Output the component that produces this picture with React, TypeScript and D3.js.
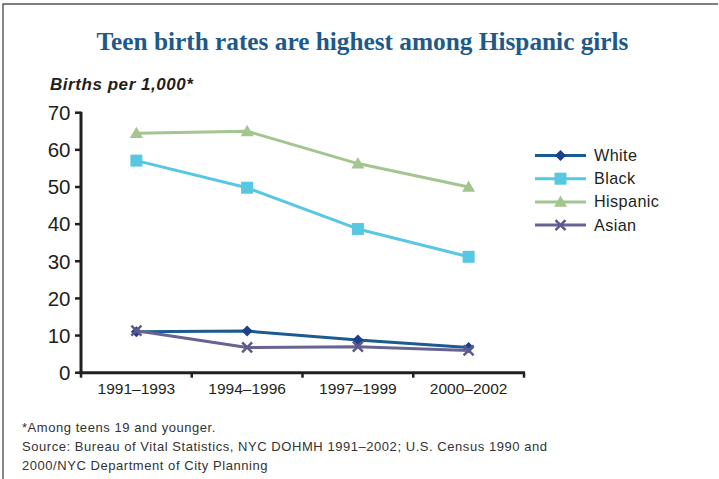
import React from "react";
import * as d3 from "d3";

const categories = ["1991–1993", "1994–1996", "1997–1999", "2000–2002"];
const seriesNames = ["White", "Black", "Hispanic", "Asian"];
const whiteValues = [11.0, 11.2, 8.8, 6.8];
const blackValues = [57.1, 49.8, 38.7, 31.2];
const hispanicValues = [64.5, 65.0, 56.3, 50.0];
const asianValues = [11.3, 6.8, 7.0, 6.0];
const yTicks = [0, 10, 20, 30, 40, 50, 60, 70];

const colors: Record<string, string> = {
  White: "#1c5b8f",
  Black: "#58c8e2",
  Hispanic: "#a4c58f",
  Asian: "#676493",
};
const markerColors: Record<string, string> = {
  White: "#1f3f8a",
  Black: "#58c8e2",
  Hispanic: "#a4c58f",
  Asian: "#5e5b8a",
};

function Marker({ type, x, y }: { type: string; x: number; y: number }) {
  const c = markerColors[type];
  if (type === "White") {
    const s = 5.5;
    return <path d={`M${x},${y - s}L${x + s},${y}L${x},${y + s}L${x - s},${y}Z`} fill={c} />;
  }
  if (type === "Black") {
    const s = 6;
    return <rect x={x - s} y={y - s} width={2 * s} height={2 * s} fill={c} />;
  }
  if (type === "Hispanic") {
    const s = 6.5;
    return <path d={`M${x},${y - s}L${x + s},${y + s * 0.75}L${x - s},${y + s * 0.75}Z`} fill={c} />;
  }
  const s = 5;
  return (
    <path
      d={`M${x - s},${y - s}L${x + s},${y + s}M${x - s},${y + s}L${x + s},${y - s}`}
      stroke={c}
      strokeWidth={2.5}
      fill="none"
    />
  );
}

export default function App() {
  const W = 719;
  const H = 479;
  const left = 81;
  const right = 524;
  const top = 112.7;
  const bottom = 372.7;

  const x = d3.scaleBand<string>().domain(categories).range([left, right]).padding(0);
  const y = d3.scaleLinear().domain([0, 70]).range([bottom, top]);

  const data: Record<string, number[]> = {
    White: whiteValues,
    Black: blackValues,
    Hispanic: hispanicValues,
    Asian: asianValues,
  };

  const line = d3
    .line<number>()
    .x((_, i) => (x(categories[i]) as number) + x.bandwidth() / 2)
    .y((d) => y(d));

  const drawOrder = ["Hispanic", "Black", "White", "Asian"];
  const sans = "'Liberation Sans', Arial, Helvetica, sans-serif";

  const legendX1 = 535;
  const legendX2 = 586;
  const legendY0 = 155.5;
  const legendStep = 23.2;

  const boundaries = categories.map((c) => x(c) as number).concat([right]);

  return (
    <svg
      width={W}
      height={H}
      style={{ position: "absolute", left: 0, top: 0, background: "#fff" }}
    >
      <rect x={0} y={0} width={W} height={H} fill="#fff" />
      {/* frame */}
      <line x1={2.5} y1={4} x2={718} y2={4} stroke="#555" strokeWidth={1.6} />
      <line x1={3} y1={4} x2={3} y2={H} stroke="#555" strokeWidth={1.4} />

      <text
        x={362.5}
        y={50}
        textAnchor="middle"
        fontFamily="'Liberation Serif', 'Times New Roman', serif"
        fontWeight="bold"
        fontSize={25.3}
        fill="#1d5a8b"
      >
        Teen birth rates are highest among Hispanic girls
      </text>

      <text
        x={50}
        y={89.5}
        fontFamily={sans}
        fontWeight="bold"
        fontStyle="italic"
        fontSize={17}
        letterSpacing={0.55}
        fill="#231f20"
      >
        Births per 1,000*
      </text>

      {/* y ticks */}
      {yTicks.map((t) => (
        <g key={t}>
          <line x1={75} x2={left} y1={y(t)} y2={y(t)} stroke="#231f20" strokeWidth={2.5} />
          <text x={70.5} y={y(t) + 7.3} textAnchor="end" fontFamily={sans} fontSize={20.5} fill="#231f20">
            {t}
          </text>
        </g>
      ))}

      {/* x ticks */}
      {boundaries.map((b, i) => (
        <line key={i} x1={b} x2={b} y1={bottom} y2={bottom + 5} stroke="#231f20" strokeWidth={2.5} />
      ))}
      {categories.map((c) => (
        <text
          key={c}
          x={(x(c) as number) + x.bandwidth() / 2}
          y={394}
          textAnchor="middle"
          fontFamily={sans}
          fontSize={15.5}
          fill="#231f20"
        >
          {c}
        </text>
      ))}

      {/* axes */}
      <line x1={left} x2={left} y1={top - 1} y2={bottom + 1.5} stroke="#231f20" strokeWidth={3} />
      <line x1={left - 1.5} x2={right + 1} y1={bottom} y2={bottom} stroke="#231f20" strokeWidth={3} />

      {/* series */}
      {drawOrder.map((name) => (
        <g key={name}>
          <path d={line(data[name]) || ""} fill="none" stroke={colors[name]} strokeWidth={3} strokeLinejoin="round" />
          {data[name].map((v, i) => (
            <Marker key={i} type={name} x={(x(categories[i]) as number) + x.bandwidth() / 2} y={y(v)} />
          ))}
        </g>
      ))}

      {/* legend */}
      {seriesNames.map((name, i) => {
        const ly = legendY0 + i * legendStep;
        return (
          <g key={name}>
            <line x1={legendX1} x2={legendX2} y1={ly} y2={ly} stroke={colors[name]} strokeWidth={3} />
            <Marker type={name} x={(legendX1 + legendX2) / 2} y={ly} />
            <text x={594} y={ly + 5.5} fontFamily={sans} fontSize={16.2} letterSpacing={0.4} fill="#231f20">
              {name}
            </text>
          </g>
        );
      })}

      {/* footnotes */}
      <g fontFamily={sans} fontSize={13} letterSpacing={0.55} fill="#333">
        <text x={22} y={432}>*Among teens 19 and younger.</text>
        <text x={22} y={451}>Source: Bureau of Vital Statistics, NYC DOHMH 1991–2002; U.S. Census 1990 and</text>
        <text x={22} y={470}>2000/NYC Department of City Planning</text>
      </g>
    </svg>
  );
}
